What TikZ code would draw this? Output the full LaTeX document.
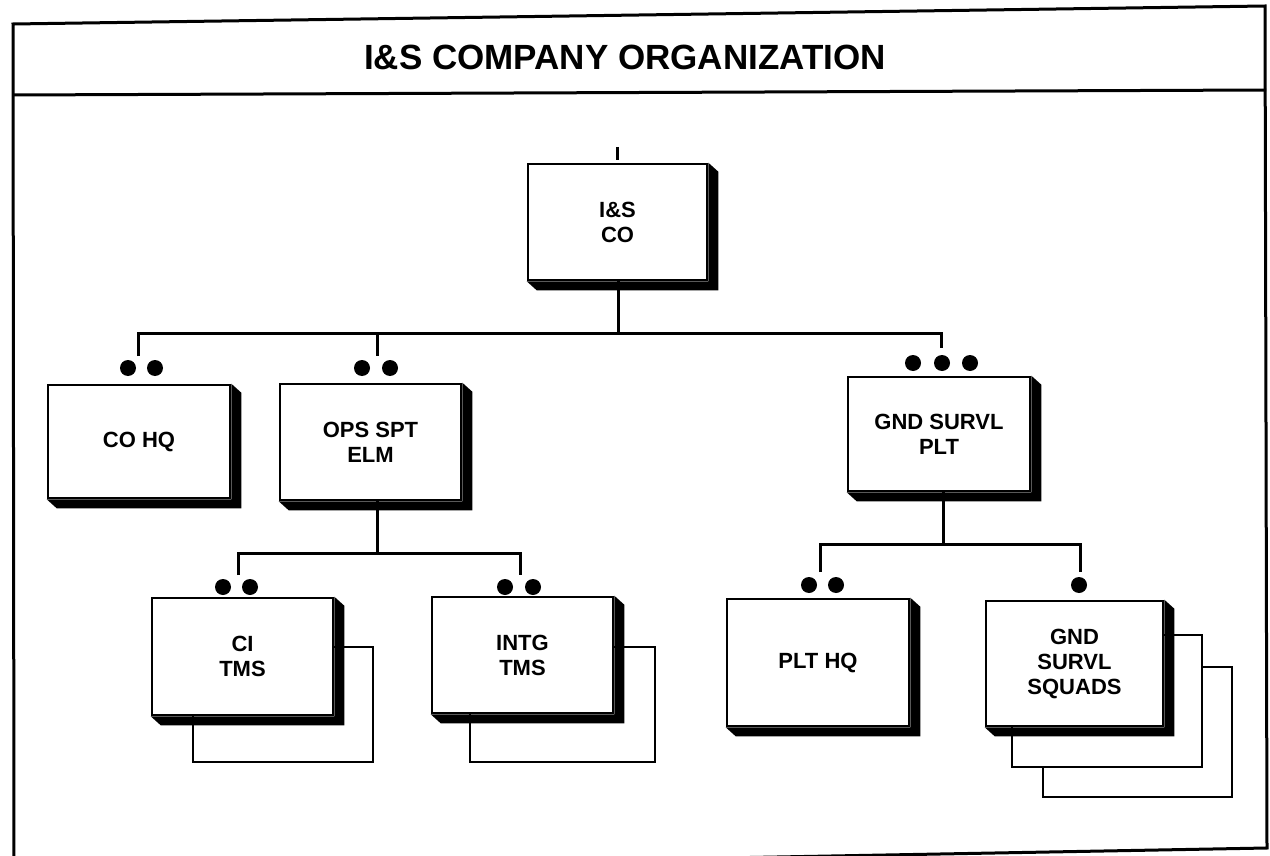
\documentclass[tikz,border=0pt]{standalone}
\usepackage{fontspec}
\setmainfont{Liberation Sans}
\usetikzlibrary{calc}
\tikzset{
  obox/.style={draw, line width=2.6pt, fill=white, inner sep=0pt, align=center,
    font=\bfseries\fontsize{22}{25}\selectfont},
  backbox/.style={draw, line width=2.6pt, fill=white},
  conn/.style={line width=3pt},
  dot/.style={circle, fill=black, inner sep=0pt, minimum size=16pt},
  frame/.style={line width=3pt},
  titlefont/.style={font=\bfseries\fontsize{35}{40}\selectfont},
}
\newcommand\orgbox[6]{%
  \pgfmathsetmacro\cx{(#2+#4)/2}\pgfmathsetmacro\cy{(#3+#5)/2}%
  \pgfmathsetmacro\bw{#4-#2}\pgfmathsetmacro\bh{#5-#3}%
  \node[obox, minimum width=\bw pt, minimum height=\bh pt] (#1) at (\cx,\cy) {#6};
  \fill (#1.north east) -- ++(10,9) -- ($(#1.south east)+(10,9)$) -- ($(#1.south west)+(10,9)$)
        -- (#1.south west) -- (#1.south east) -- cycle;
}
\begin{document}
\begin{tikzpicture}[x=1pt,y=-1pt]
\useasboundingbox (0,0) rectangle (1270,856);
\fill[white] (0,0) rectangle (1270,856);
% frame
\draw[frame] (13,24) -- (1265,6) -- (1267,848) -- (14,871) -- cycle;
\draw[frame] (13,95) -- (1266,90);
\node[titlefont] (title) at (625,57) {I\&S COMPANY ORGANIZATION};

% back boxes
\draw[backbox] (193,647) rectangle (373,762);
\draw[backbox] (470,647) rectangle (655,762);
\draw[backbox] (1043,667) rectangle (1232,797);
\draw[backbox] (1012,635) rectangle (1202,767);

% boxes
\orgbox{isco}{528}{164}{707}{280}{I\&S\\CO}
\orgbox{cohq}{48}{385}{230}{498}{CO HQ}
\orgbox{ops}{280}{384}{461}{500}{OPS SPT\\ELM}
\orgbox{gnd}{848}{377}{1030}{491}{GND SURVL\\PLT}
\orgbox{ci}{152}{598}{333}{715}{CI\\TMS}
\orgbox{intg}{432}{597}{613}{713}{INTG\\TMS}
\orgbox{plthq}{727}{599}{909}{726}{PLT HQ}
\orgbox{squads}{986}{601}{1163}{726}{GND\\SURVL\\SQUADS}

% dots
\node[dot] (cohqa) at (128,368) {};
\node[dot] (cohqb) at (155,368) {};
\node[dot] (opsa) at (362,368) {};
\node[dot] (opsb) at (390,368) {};
\node[dot] (gnda) at (913,363) {};
\node[dot] (gndb) at (942,363) {};
\node[dot] (gndc) at (970,363) {};
\node[dot] (cia) at (223,587) {};
\node[dot] (cib) at (250,587) {};
\node[dot] (intga) at (505,587) {};
\node[dot] (intgb) at (533,587) {};
\node[dot] (plta) at (809,585) {};
\node[dot] (pltb) at (836,585) {};
\node[dot] (sqa) at (1079,585) {};

% tick above top box
\coordinate (ticktop) at (617,147);
\coordinate (tickbot) at (617,160);
\draw[conn] (ticktop) -- (tickbot);

% level 1 connectors
\coordinate (b1c) at (618,333);
\coordinate (b1l) at (138,333);
\coordinate (b1m) at (377,333);
\coordinate (b1r) at (941,333);
\coordinate (d1) at (138,356);
\coordinate (d2) at (377,356);
\coordinate (d3) at (941,348);
\draw[conn] (isco.south -| b1c) -- (b1c);
\draw[conn] (d1) -- (b1l) -- (b1r) -- (d3);
\draw[conn] (b1m) -- (d2);

% ops subtree
\coordinate (b2c) at (377,553);
\coordinate (b2l) at (238,553);
\coordinate (b2r) at (520,553);
\coordinate (d4) at (238,575);
\coordinate (d5) at (520,575);
\draw[conn] (ops.south -| b2c) -- (b2c);
\draw[conn] (d4) -- (b2l) -- (b2r) -- (d5);

% gnd subtree
\coordinate (b3c) at (943,544);
\coordinate (b3l) at (820,544);
\coordinate (b3r) at (1080,544);
\coordinate (d6) at (820,572);
\coordinate (d7) at (1080,572);
\draw[conn] (gnd.south -| b3c) -- (b3c);
\draw[conn] (d6) -- (b3l) -- (b3r) -- (d7);
\end{tikzpicture}
\end{document}
